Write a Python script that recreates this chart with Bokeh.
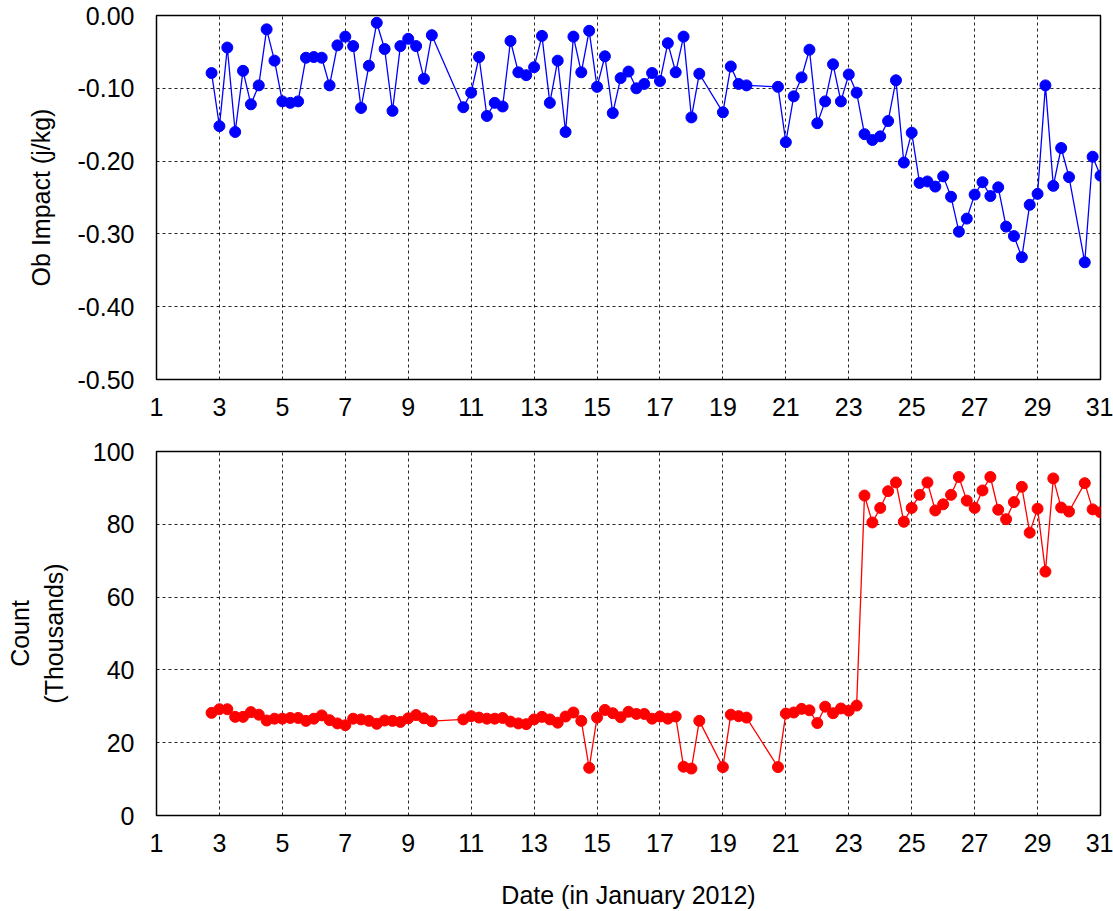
from bokeh.plotting import figure
from bokeh.layouts import column
from bokeh.models import Range1d, FixedTicker, NumeralTickFormatter, Title
from bokeh.embed import file_html
from bokeh.resources import INLINE

# Observation times (day of January 2012, 6-hourly analyses)
days = [2.75, 3.00, 3.25, 3.50, 3.75, 4.00, 4.25, 4.50, 4.75, 5.00,
        5.25, 5.50, 5.75, 6.00, 6.25, 6.50, 6.75, 7.00, 7.25, 7.50,
        7.75, 8.00, 8.25, 8.50, 8.75, 9.00, 9.25, 9.50, 9.75, 10.75,
        11.00, 11.25, 11.50, 11.75, 12.00, 12.25, 12.50, 12.75, 13.00, 13.25,
        13.50, 13.75, 14.00, 14.25, 14.50, 14.75, 15.00, 15.25, 15.50, 15.75,
        16.00, 16.25, 16.50, 16.75, 17.00, 17.25, 17.50, 17.75, 18.00, 18.25,
        19.00, 19.25, 19.50, 19.75, 20.75, 21.00, 21.25, 21.50, 21.75, 22.00,
        22.25, 22.50, 22.75, 23.00, 23.25, 23.50, 23.75, 24.00, 24.25, 24.50,
        24.75, 25.00, 25.25, 25.50, 25.75, 26.00, 26.25, 26.50, 26.75, 27.00,
        27.25, 27.50, 27.75, 28.00, 28.25, 28.50, 28.75, 29.00, 29.25, 29.50,
        29.75, 30.00, 30.50, 30.75, 31.00]

# Total observation impact (J/kg)
ob_impact = [-0.079, -0.152, -0.044, -0.160, -0.076, -0.122, -0.096, -0.019, -0.062, -0.118,
             -0.120, -0.118, -0.058, -0.057, -0.058, -0.096, -0.041, -0.029, -0.042, -0.127,
             -0.069, -0.010, -0.046, -0.131, -0.042, -0.032, -0.042, -0.087, -0.027, -0.126,
             -0.106, -0.057, -0.138, -0.120, -0.125, -0.035, -0.078, -0.082, -0.071, -0.028,
             -0.120, -0.062, -0.160, -0.029, -0.078, -0.021, -0.098, -0.056, -0.134, -0.086,
             -0.077, -0.100, -0.094, -0.079, -0.090, -0.038, -0.078, -0.029, -0.140, -0.080,
             -0.133, -0.070, -0.094, -0.096, -0.098, -0.174, -0.111, -0.085, -0.047, -0.148,
             -0.118, -0.067, -0.118, -0.081, -0.106, -0.163, -0.171, -0.166, -0.145, -0.089,
             -0.202, -0.161, -0.230, -0.228, -0.235, -0.221, -0.249, -0.297, -0.279, -0.246,
             -0.229, -0.248, -0.236, -0.290, -0.303, -0.332, -0.260, -0.245, -0.096, -0.234,
             -0.182, -0.222, -0.339, -0.194, -0.220]

# Number of observations assimilated (thousands)
ob_count = [28.2, 29.2, 29.2, 27.1, 27.1, 28.4, 27.7, 26.1, 26.6, 26.6,
            26.8, 26.8, 26.0, 26.6, 27.5, 26.2, 25.3, 24.8, 26.6, 26.4,
            26.0, 25.2, 26.1, 26.0, 25.7, 26.7, 27.6, 26.7, 25.9, 26.4,
            27.3, 26.9, 26.6, 26.6, 26.8, 25.8, 25.3, 25.1, 26.4, 27.1,
            26.4, 25.5, 27.2, 28.3, 26.0, 13.1, 26.9, 29.0, 28.1, 27.0,
            28.5, 27.9, 27.9, 26.6, 27.2, 26.6, 27.2, 13.4, 12.9, 26.0,
            13.3, 27.7, 27.3, 26.9, 13.3, 28.0, 28.3, 29.3, 28.9, 25.4,
            29.9, 28.1, 29.4, 28.8, 30.2, 87.9, 80.5, 84.5, 89.1, 91.5,
            80.7, 84.5, 88.1, 91.5, 83.8, 85.5, 88.1, 93.0, 86.5, 84.5,
            89.3, 93.0, 84.0, 81.4, 86.1, 90.3, 77.7, 84.3, 67.0, 92.6,
            84.6, 83.5, 91.3, 84.1, 83.3]

day_ticks = [1, 3, 5, 7, 9, 11, 13, 15, 17, 19, 21, 23, 25, 27, 29, 31]
impact_ticks = [0.0, -0.1, -0.2, -0.3, -0.4, -0.5]
count_ticks = [0, 20, 40, 60, 80, 100]

FONT = "Liberation Sans"
FS = "25px"


def style(p, yticks):
    p.outline_line_color = "black"
    p.outline_line_width = 1.5
    p.xaxis.ticker = FixedTicker(ticks=day_ticks)
    p.yaxis.ticker = FixedTicker(ticks=yticks)
    for ax in (p.xaxis[0], p.yaxis[0]):
        ax.axis_line_color = None
        ax.major_tick_line_color = None
        ax.minor_tick_line_color = None
        ax.major_label_text_font = FONT
        ax.major_label_text_font_size = FS
        ax.major_label_text_color = "black"
        ax.axis_label_text_font = FONT
        ax.axis_label_text_font_size = FS
        ax.axis_label_text_font_style = "normal"
        ax.axis_label_text_color = "black"
    p.xaxis.major_label_standoff = 12
    p.yaxis.major_label_standoff = 16
    for g in (p.xgrid[0], p.ygrid[0]):
        g.grid_line_color = "black"
        g.grid_line_dash = "3 3"
        g.grid_line_width = 1
        g.grid_line_alpha = 0.85


top = figure(width=1113, height=430, output_backend="svg", toolbar_location=None,
             x_range=Range1d(1, 31), y_range=Range1d(-0.5, 0.0),
             min_border_left=152, min_border_right=13, min_border_top=15,
             min_border_bottom=51)
style(top, impact_ticks)
top.yaxis.formatter = NumeralTickFormatter(format="0.00")
top.yaxis.axis_label = "Ob Impact (j/kg)"
top.yaxis.axis_label_standoff = 20
top.line(days, ob_impact, line_color="blue", line_width=1.3)
top.scatter(days, ob_impact, size=11, fill_color="blue", line_color="blue")

bottom = figure(width=1113, height=481, output_backend="svg", toolbar_location=None,
                x_range=Range1d(1, 31), y_range=Range1d(0, 100),
                min_border_left=153, min_border_right=13, min_border_top=21,
                min_border_bottom=96)
style(bottom, count_ticks)
bottom.yaxis.axis_label = "(Thousands)"
bottom.yaxis.axis_label_standoff = 22
bottom.xaxis.axis_label = "Date (in January 2012)"
bottom.xaxis.axis_label_standoff = 26
bottom.add_layout(Title(text="Count", align="center", text_font=FONT,
                        text_font_size=FS, text_font_style="normal",
                        text_color="black", standoff=6), "left")
bottom.line(days, ob_count, line_color="red", line_width=1.3)
bottom.scatter(days, ob_count, size=11, fill_color="red", line_color="red")

layout = column(top, bottom, spacing=0)
open("out.html", "w").write(file_html(layout, INLINE))
